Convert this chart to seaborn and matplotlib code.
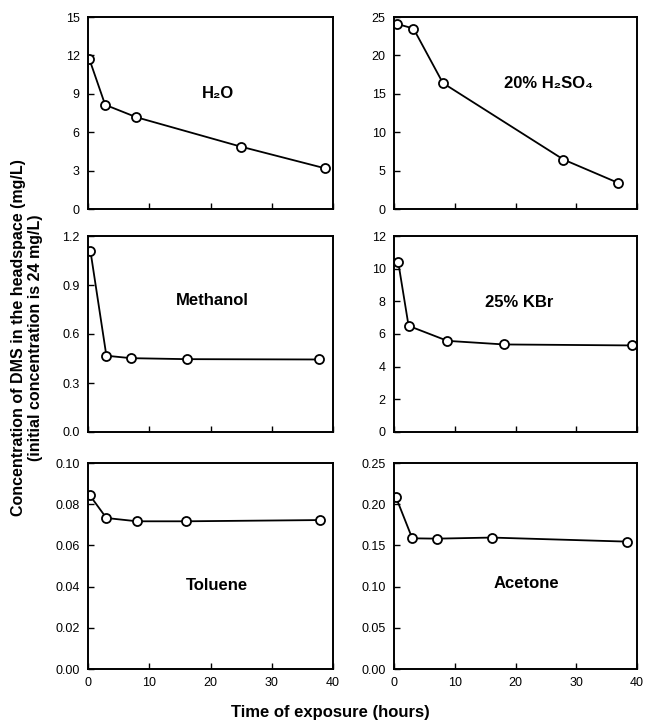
import numpy as np
import pandas as pd
import matplotlib
matplotlib.use("Agg")
import matplotlib.pyplot as plt
import seaborn as sns

# ---- data ----
solvents = ["H₂O", "20% H₂SO₄", "Methanol", "25% KBr", "Toluene", "Acetone"]

h2o_time = [0.2, 2.8, 7.9, 24.9, 38.7]
h2o_conc = [11.74, 8.14, 7.17, 4.88, 3.18]

h2so4_time = [0.5, 3.2, 8.05, 27.9, 36.9]
h2so4_conc = [24.1, 23.5, 16.4, 6.44, 3.40]

methanol_time = [0.4, 3.0, 7.0, 16.1, 37.7]
methanol_conc = [1.108, 0.467, 0.452, 0.446, 0.444]

kbr_time = [0.7, 2.4, 8.8, 18.1, 39.2]
kbr_conc = [10.39, 6.50, 5.58, 5.36, 5.30]

toluene_time = [0.3, 3.0, 8.0, 16.0, 37.8]
toluene_conc = [0.0843, 0.0733, 0.0717, 0.0717, 0.0723]

acetone_time = [0.33, 3.0, 7.0, 16.1, 38.3]
acetone_conc = [0.2084, 0.1586, 0.1582, 0.1595, 0.1546]

y_ticks = {
    "H₂O": [0, 3, 6, 9, 12, 15],
    "20% H₂SO₄": [0, 5, 10, 15, 20, 25],
    "Methanol": [0.0, 0.3, 0.6, 0.9, 1.2],
    "25% KBr": [0, 2, 4, 6, 8, 10, 12],
    "Toluene": [0.00, 0.02, 0.04, 0.06, 0.08, 0.10],
    "Acetone": [0.00, 0.05, 0.10, 0.15, 0.20, 0.25],
}
y_fmt = {
    "H₂O": "{:.0f}", "20% H₂SO₄": "{:.0f}", "Methanol": "{:.1f}",
    "25% KBr": "{:.0f}", "Toluene": "{:.2f}", "Acetone": "{:.2f}",
}
x_ticks = [0, 10, 20, 30, 40]

times = [h2o_time, h2so4_time, methanol_time, kbr_time, toluene_time, acetone_time]
concs = [h2o_conc, h2so4_conc, methanol_conc, kbr_conc, toluene_conc, acetone_conc]

df = pd.concat([
    pd.DataFrame({"solvent": s, "time": t, "conc": c})
    for s, t, c in zip(solvents, times, concs)
], ignore_index=True)

# ---- style ----
sns.set_theme(style="ticks")
plt.rcParams["font.family"] = ["Liberation Sans", "DejaVu Sans"]
plt.rcParams["text.color"] = "black"
plt.rcParams["axes.labelcolor"] = "black"
plt.rcParams["xtick.color"] = "black"
plt.rcParams["ytick.color"] = "black"

W, H = 645, 724
fig = plt.figure(figsize=(W / 100, H / 100), dpi=100)

col_x = [(88, 245), (394, 243)]
row_y = [(17, 209), (236, 432), (463, 669)]
label_pos = {
    "H₂O": (0.53, 0.60),
    "20% H₂SO₄": (0.634, 0.656),
    "Methanol": (0.506, 0.673),
    "25% KBr": (0.514, 0.663),
    "Toluene": (0.527, 0.403),
    "Acetone": (0.543, 0.413),
}

for i, s in enumerate(solvents):
    r, c = divmod(i, 2)
    x0, w = col_x[c]
    top, bot = row_y[r]
    ax = fig.add_axes([x0 / W, 1 - bot / H, w / W, (bot - top) / H])
    sub = df[df["solvent"] == s]
    sns.lineplot(data=sub, x="time", y="conc", ax=ax, color="black",
                 linewidth=1.3, marker="o", markersize=6.5,
                 markerfacecolor="white", markeredgecolor="black",
                 markeredgewidth=1.3, errorbar=None, sort=False)
    ax.set_xlim(0, 40)
    yt = y_ticks[s]
    ax.set_ylim(yt[0], yt[-1])
    ax.set_yticks(yt)
    ax.set_yticklabels([y_fmt[s].format(v) for v in yt])
    ax.set_xticks(x_ticks)
    if r == 2:
        ax.set_xticklabels([str(v) for v in x_ticks])
    else:
        ax.set_xticklabels([])
    ax.tick_params(direction="in", length=4, width=1.0, labelsize=9,
                   pad=6, colors="black")
    ax.set_xlabel("")
    ax.set_ylabel("")
    for sp in ax.spines.values():
        sp.set_visible(True)
        sp.set_linewidth(1.4)
        sp.set_color("black")
    lx, ly = label_pos[s]
    ax.text(lx, ly, s, transform=ax.transAxes, ha="center", va="center",
            fontsize=12, fontweight="bold", color="black")

fig.text(27 / W, 1 - 338 / H,
         "Concentration of DMS in the headspace (mg/L)\n(initial concentration is 24 mg/L)",
         rotation=90, ha="center", va="center", fontsize=11.5,
         fontweight="bold", linespacing=1.1, color="black")
fig.text(330 / W, 1 - 712 / H, "Time of exposure (hours)", ha="center",
         va="center", fontsize=12, fontweight="bold", color="black")

fig.savefig("out.png", dpi=100, facecolor="white")
